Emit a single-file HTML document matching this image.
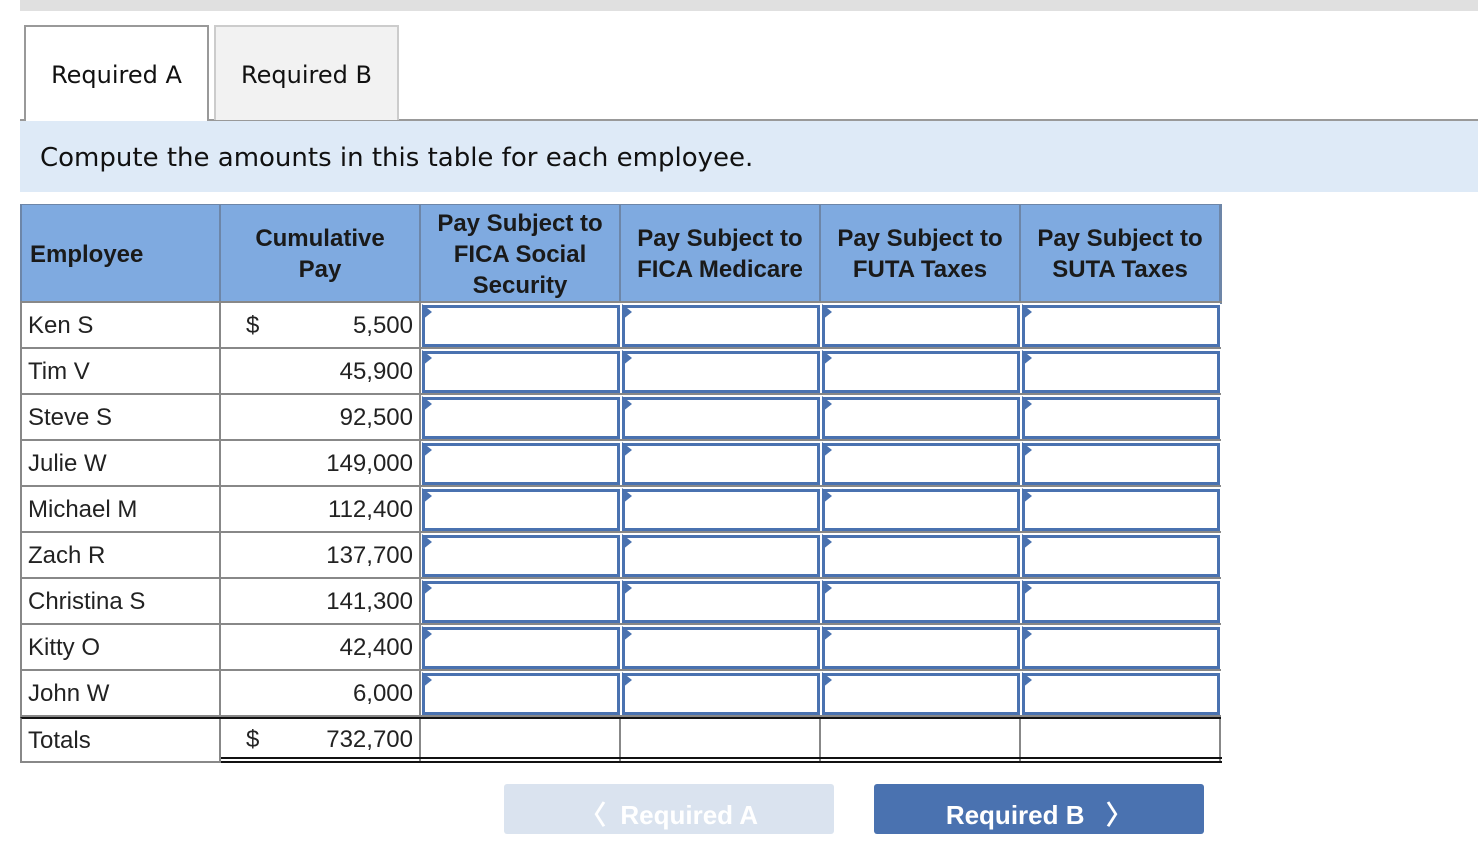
<!DOCTYPE html>
<html><head><meta charset="utf-8"><style>
*{box-sizing:border-box;margin:0;padding:0}
body{width:1478px;height:830px;position:relative;overflow:hidden;background:#fff;font-family:"Liberation Sans",Arial,sans-serif;color:#222}
.a{position:absolute}
.tab{position:absolute;top:25px;height:96px;width:185px;font-family:"DejaVu Sans",sans-serif;font-size:24px;text-align:center;line-height:96px;color:#111}
.hd{position:absolute;top:205px;height:98px;background:#7faae0;border-right:2px solid #6d86a8;font-weight:bold;font-size:24px;display:flex;align-items:center;justify-content:center;text-align:center;line-height:31px;color:#1a1a1a}
.row{position:absolute;left:20px;width:1201px;height:46px;border-bottom:2px solid #888;border-left:2px solid #888;font-size:24px}
.c{position:absolute;top:0;height:100%;border-right:2px solid #888}
.inp{position:absolute;top:2px;height:42px;width:198px;border:3px solid #4a72b0;background:#fff}
.inp::before{content:"";position:absolute;left:-3px;top:-4px;border-top:8px solid transparent;border-bottom:8px solid transparent;border-left:10px solid #4a72b0}
.btn{position:absolute;top:784px;height:50px;width:330px;border-radius:3px;color:#fff;font-weight:bold;font-size:26px;text-align:center;line-height:62px}
</style></head><body>
<div class="a" style="left:20px;top:0;width:1458px;height:11px;background:#e0e0e0"></div>
<div class="a" style="left:20px;top:119px;width:1458px;height:2px;background:#999"></div>
<div class="tab" style="left:24px;background:#fff;border:2px solid #999;border-bottom:none;height:97px">Required A</div>
<div class="tab" style="left:214px;background:#f2f2f2;border:2px solid #ccc;border-bottom:none;height:95px">Required B</div>
<div class="a" style="left:20px;top:121px;width:1458px;height:71px;background:#deeaf7;font-family:'DejaVu Sans',sans-serif;font-size:26px;line-height:74px;padding-left:20px;color:#111">Compute the amounts in this table for each employee.</div>

<div class="a" style="left:20px;top:204px;width:1202px;height:100px;border:2px solid #6d86a8;border-bottom:none"></div>
<div class="hd" style="left:20px;width:201px;justify-content:flex-start;padding-left:8px;border-left:2px solid #6d86a8">Employee</div>
<div class="hd" style="left:221px;width:200px">Cumulative<br>Pay</div>
<div class="hd" style="left:421px;width:200px">Pay Subject to<br>FICA Social<br>Security</div>
<div class="hd" style="left:621px;width:200px">Pay Subject to<br>FICA Medicare</div>
<div class="hd" style="left:821px;width:200px">Pay Subject to<br>FUTA Taxes</div>
<div class="hd" style="left:1021px;width:200px">Pay Subject to<br>SUTA Taxes</div>
<div class="a" style="left:20px;top:301px;width:1202px;height:2px;background:#888"></div>

<div id="rows"></div>

<div class="btn" style="left:504px;background:#dae3ef">〈&nbsp; Required A</div>
<div class="btn" style="left:874px;background:#4a72b0">Required B &nbsp; 〉</div>

<script>
const names=["Ken S","Tim V","Steve S","Julie W","Michael M","Zach R","Christina S","Kitty O","John W"];
const pays=["5,500","45,900","92,500","149,000","112,400","137,700","141,300","42,400","6,000"];
const root=document.getElementById('rows');
function mk(html,style){const d=document.createElement('div');d.className='c';d.style.cssText=style;d.innerHTML=html;return d;}
names.forEach((n,i)=>{
  const r=document.createElement('div');r.className='row';
  
  
  r.style.top=(303+i*46)+'px';
  const c1=mk(n,'left:0;width:199px;line-height:46px;padding-left:6px');
  
  
  r.appendChild(c1);
  const c2=mk((i===0?'<span style="position:absolute;left:25px">$</span>':'')+pays[i],'left:199px;width:200px;line-height:46px;text-align:right;padding-right:6px');
  
  
  r.appendChild(c2);
  for(let k=0;k<4;k++){
    const inp=document.createElement('div');inp.className='inp';
    
    
    inp.style.left=(400+k*200)+'px';
    r.appendChild(inp);
  }
  root.appendChild(r);
});
const t=document.createElement('div');t.className='row';


t.style.cssText='top:717px;height:46px;border-bottom:2px solid #888;border-top:2px solid #111';
const t1=mk('Totals','left:0;width:199px;line-height:44px;padding-left:6px');


t.appendChild(t1);
const t2=mk('<span style="position:absolute;left:25px">$</span>732,700','left:199px;width:200px;line-height:42px;text-align:right;padding-right:6px');


t.appendChild(t2);
for(let k=0;k<4;k++){const e=mk('','left:'+(399+k*200)+'px;width:200px');t.appendChild(e);}
root.appendChild(t);
const dl=document.createElement('div');


dl.style.cssText='position:absolute;left:221px;top:757px;width:1001px;height:6px;border-top:2px solid #111;border-bottom:2px solid #111';
root.appendChild(dl);
</script>
</body></html>
